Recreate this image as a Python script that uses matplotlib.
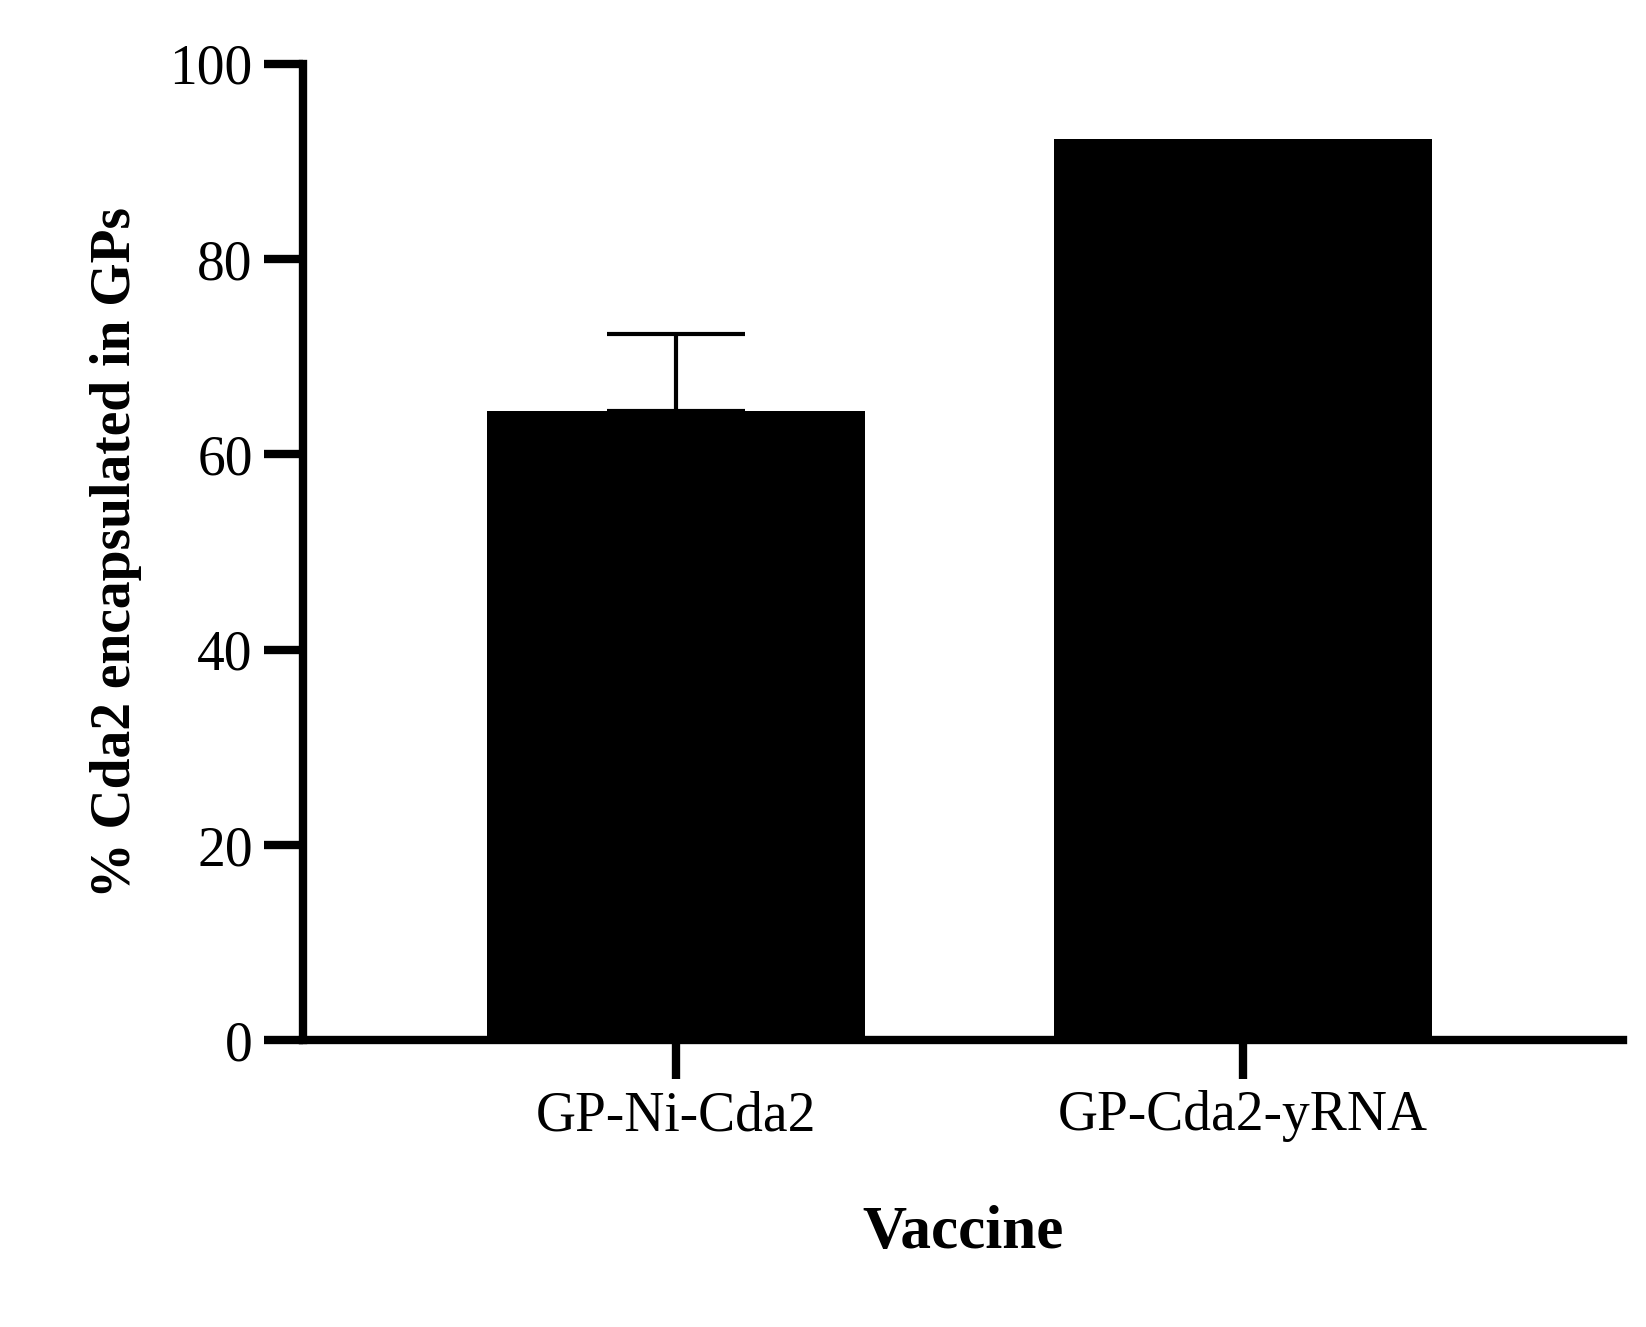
import matplotlib
matplotlib.use("Agg")
import matplotlib.pyplot as plt

categories = ["GP-Ni-Cda2", "GP-Cda2-yRNA"]
values = [64.4, 92.3]
errors = [7.9, 0]
yticks = [0, 20, 40, 60, 80, 100]

plt.rcParams['font.family'] = ['Liberation Serif', 'DejaVu Serif']
fig = plt.figure(figsize=(16.46, 13.27), dpi=100)
ax = fig.add_axes([0.184, 0.216, 0.802, 0.736])
x = list(range(len(categories)))
ax.bar(x, values, width=0.667, color='black')
ax.errorbar([0], [values[0]], yerr=[[0], [errors[0]]], fmt='none', ecolor='black',
            elinewidth=3, capsize=50, capthick=3)
ax.set_xlim(-0.659, 1.67)
ax.set_ylim(0, 100)
ax.set_yticks(yticks)
ax.set_xticks(x)
ax.set_xticklabels(categories)
for s in ['top', 'right']:
    ax.spines[s].set_visible(False)
for s in ['left', 'bottom']:
    ax.spines[s].set_linewidth(6)
ax.tick_params(axis='both', width=6, length=28, labelsize=40, pad=8)
ax.set_ylabel("% Cda2 encapsulated in GPs", fontsize=40, fontweight='bold', labelpad=20)
ax.set_xlabel("Vaccine", fontsize=44, fontweight='bold', labelpad=45)
fig.savefig("out.png", dpi=100)
